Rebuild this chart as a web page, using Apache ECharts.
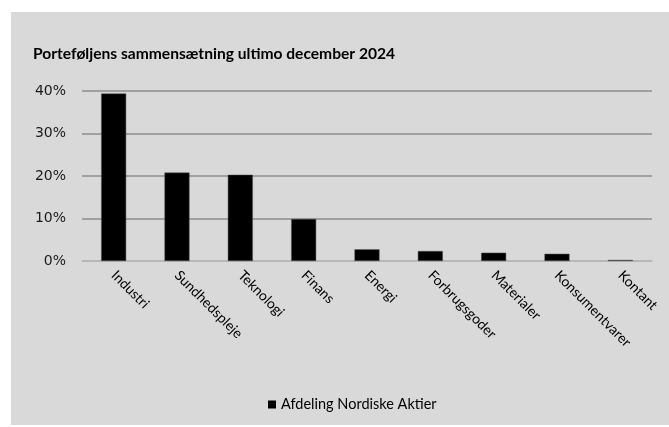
<!DOCTYPE html>
<html>
<head>
<meta charset="utf-8">
<script src="https://cdn.jsdelivr.net/npm/echarts@6/dist/echarts.min.js"></script>
<style>
html,body{margin:0;padding:0;background:#ffffff;}
#c{width:669px;height:427px;}
</style>
</head>
<body>
<div id="c"></div>
<script>
const categories = ['Industri','Sundhedspleje','Teknologi','Finans','Energi','Forbrugsgoder','Materialer','Konsumentvarer','Kontant'];
const values = [39.4, 20.8, 20.3, 9.9, 2.75, 2.35, 1.95, 1.7, 0.25];
const seriesName = 'Afdeling Nordiske Aktier';
const titleText = 'Porteføljens sammensætning ultimo december 2024';

const chart = echarts.init(document.getElementById('c'), null, {renderer:'canvas'});
chart.setOption({
  animation:false,
  backgroundColor:'#ffffff',
  graphic:[{type:'rect', shape:{x:11,y:12,width:658,height:413}, style:{fill:'#d9d9d9'}, z:-10}],
  title:{text:titleText, left:28, top:41, textStyle:{fontFamily:'Lato', fontWeight:'bold', fontSize:15.6, color:'#000'}},
  legend:{data:[seriesName], left:263, top:392, itemWidth:8, itemHeight:8, itemGap:4,
    itemStyle:{color:'#000000', borderWidth:0},
    textStyle:{fontFamily:'Lato', fontSize:14.5, color:'#000'}, icon:'rect'},
  grid:{left:82, right:17, top:91, bottom:166},
  xAxis:{type:'category', data:categories,
    axisLine:{lineStyle:{color:'#bfbfbf', width:1.5}}, axisTick:{show:false},
    axisLabel:{rotate:-45, interval:0, margin:12, fontFamily:'Lato', fontSize:14, color:'#000'}},
  yAxis:{type:'value', min:0, max:40, interval:10,
    axisLine:{show:false}, axisTick:{show:false},
    splitLine:{lineStyle:{color:'#8c8c8c', width:1.5}},
    axisLabel:{formatter:'{value}%', fontFamily:'DejaVu Sans', fontSize:14, color:'#1a1a1a', margin:16}},
  series:[{name:seriesName, type:'bar', data:values, barWidth:'39.5%',
    itemStyle:{color:'#000000', borderColor:'#555', borderWidth:0.5}}]
});
</script>
</body>
</html>
